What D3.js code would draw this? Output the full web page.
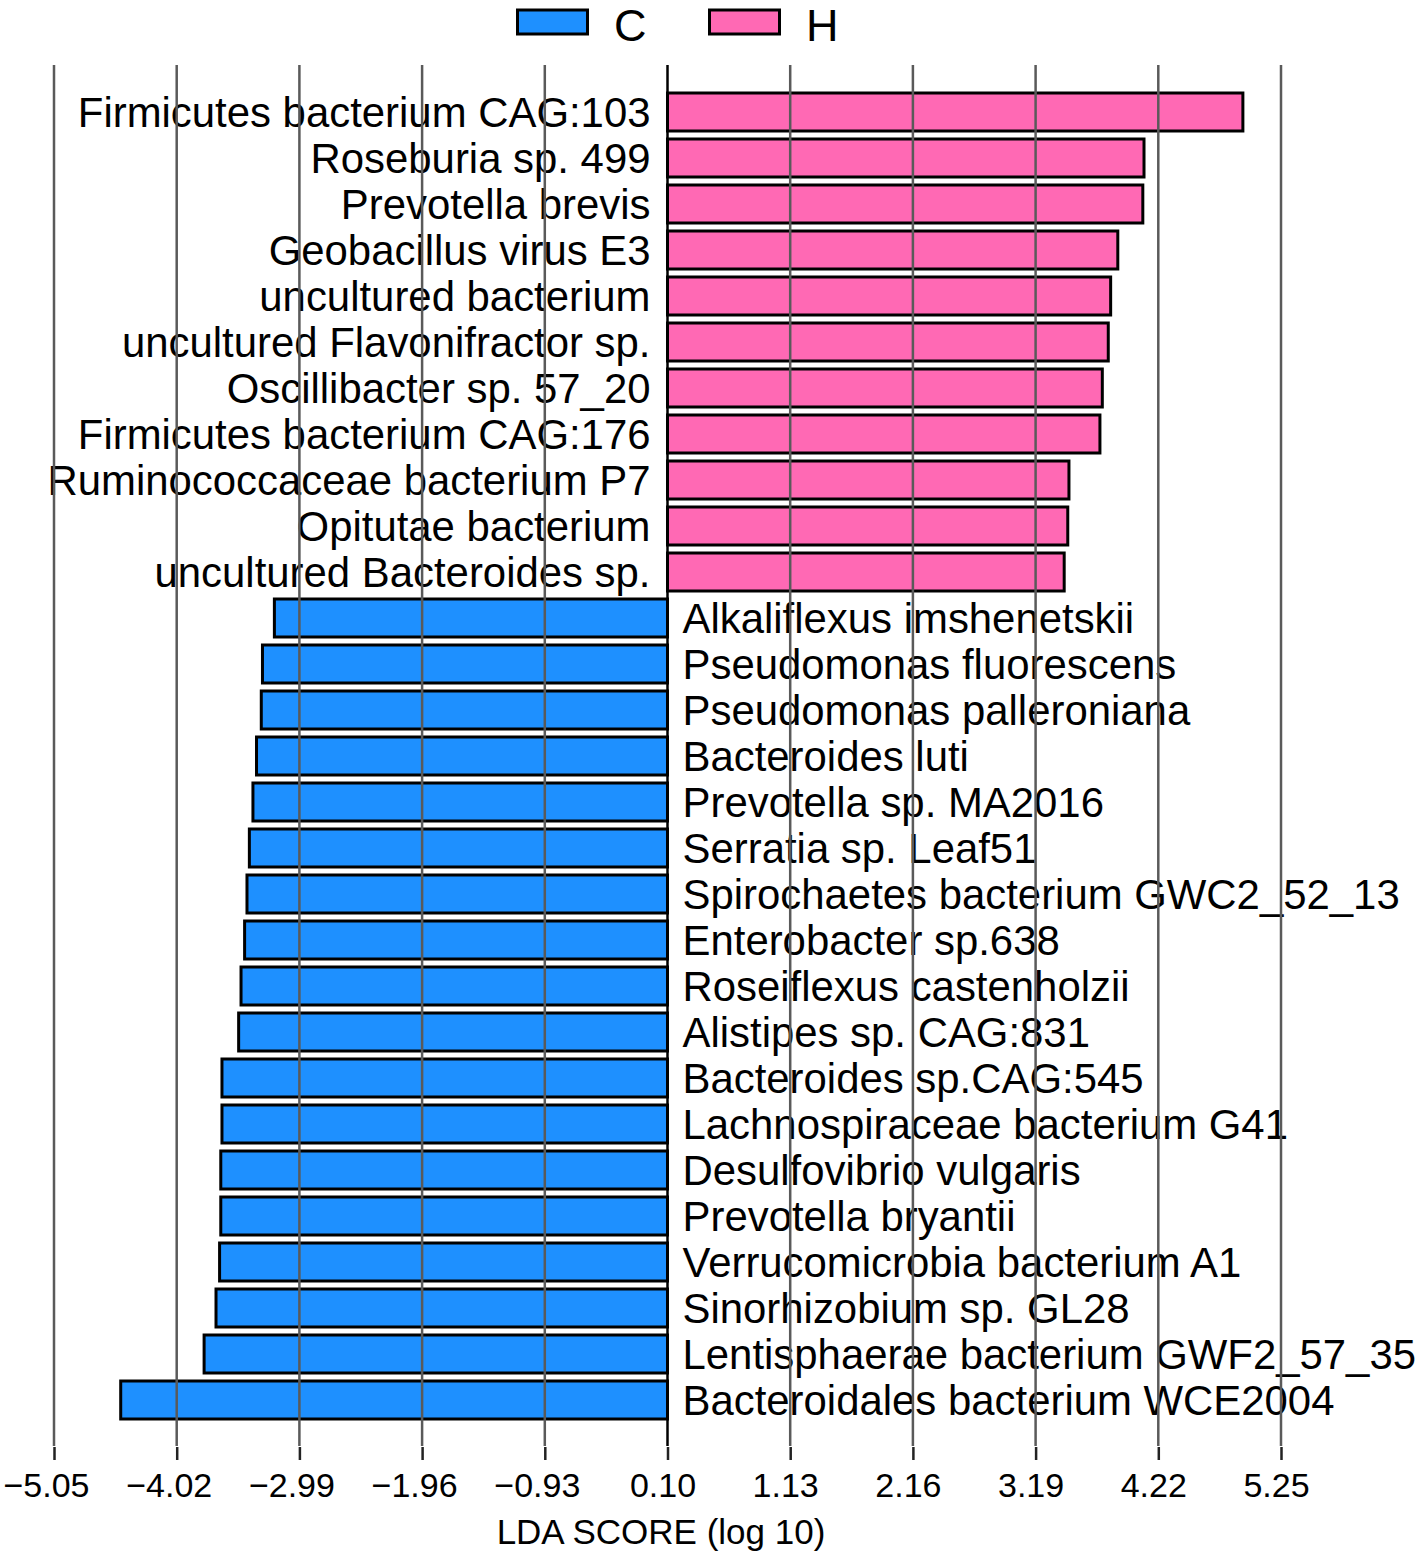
<!DOCTYPE html>
<html>
<head>
<meta charset="utf-8">
<script src="https://cdn.jsdelivr.net/npm/d3@7"></script>
<style>
  body { margin: 0; background: #fff; }
  text { font-family: "Liberation Sans", Arial, sans-serif; fill: #000; }
</style>
</head>
<body>
<div id="chart"></div>
<script>
var width_chart = 1417,
    height_chart = 1555;

var color_c = "#1e90ff";
var color_h = "#ff69b4";

// enriched in H (top block)
var h_names = ["Firmicutes bacterium CAG:103", "Roseburia sp. 499", "Prevotella brevis",
    "Geobacillus virus E3", "uncultured bacterium", "uncultured Flavonifractor sp.",
    "Oscillibacter sp. 57_20", "Firmicutes bacterium CAG:176", "Ruminococcaceae bacterium P7",
    "Opitutae bacterium", "uncultured Bacteroides sp."];
var h_scores = [4.83, 4.00, 3.99, 3.78, 3.72, 3.70, 3.65, 3.63, 3.37, 3.36, 3.33];

// enriched in C (bottom block)
var c_names = ["Alkaliflexus imshenetskii", "Pseudomonas fluorescens", "Pseudomonas palleroniana",
    "Bacteroides luti", "Prevotella sp. MA2016", "Serratia sp. Leaf51",
    "Spirochaetes bacterium GWC2_52_13", "Enterobacter sp.638", "Roseiflexus castenholzii",
    "Alistipes sp. CAG:831", "Bacteroides sp.CAG:545", "Lachnospiraceae bacterium G41",
    "Desulfovibrio vulgaris", "Prevotella bryantii", "Verrucomicrobia bacterium A1",
    "Sinorhizobium sp. GL28", "Lentisphaerae bacterium GWF2_57_35", "Bacteroidales bacterium WCE2004"];
var c_scores = [3.30, 3.40, 3.41, 3.45, 3.48, 3.51, 3.53, 3.55, 3.58, 3.60,
    3.74, 3.74, 3.75, 3.75, 3.76, 3.79, 3.89, 4.59];

var tick_values = [-5.05, -4.02, -2.99, -1.96, -0.93, 0.10, 1.13, 2.16, 3.19, 4.22, 5.25];
var base_value = 0.10;   // bars grow out from this tick

var rows = [];
h_names.forEach(function(n, i) { rows.push({ name: n, score: h_scores[i], cls: "H" }); });
c_names.forEach(function(n, i) { rows.push({ name: n, score: c_scores[i], cls: "C" }); });

var svg = d3.select("#chart").append("svg")
    .attr("width", width_chart)
    .attr("height", height_chart);

var x = d3.scaleLinear()
    .domain([-5.05, 5.25])
    .range([54, 1281]);

var y = d3.scaleBand()
    .domain(rows.map(function(d) { return d.name; }))
    .range([89, 1423])
    .paddingInner(0.174)
    .paddingOuter(0.087);

// bars
svg.selectAll("rect.bar")
    .data(rows)
    .enter().append("rect")
    .attr("class", "bar")
    .attr("x", function(d) {
        return d.cls == "H" ? x(base_value) : x(base_value - d.score);
    })
    .attr("y", function(d) { return y(d.name); })
    .attr("width", function(d) { return x(base_value + d.score) - x(base_value); })
    .attr("height", y.bandwidth())
    .style("fill", function(d) { return d.cls == "H" ? color_h : color_c; })
    .style("stroke", "#000")
    .style("stroke-width", 3);

// labels on the opposite side of the base line
svg.selectAll("text.lab")
    .data(rows)
    .enter().append("text")
    .attr("class", "lab")
    .attr("x", function(d) { return d.cls == "H" ? x(base_value) - 17 : x(base_value) + 15; })
    .attr("y", function(d) { return y(d.name) + y.bandwidth() / 2 + 15; })
    .attr("text-anchor", function(d) { return d.cls == "H" ? "end" : "start"; })
    .style("font-size", "41.9px")
    .text(function(d) { return d.name; });

// vertical grid lines, drawn over bars and labels
svg.selectAll("line.grid")
    .data(tick_values)
    .enter().append("line")
    .attr("class", "grid")
    .attr("x1", function(d) { return x(d); })
    .attr("x2", function(d) { return x(d); })
    .attr("y1", 65)
    .attr("y2", 1446)
    .style("stroke", function(d) { return d == base_value ? "#000" : "#5a5a5a"; })
    .style("stroke-width", 2.5);

// bottom axis: short ticks + labels
var axis = svg.append("g")
    .attr("transform", "translate(0,1447)")
    .call(d3.axisBottom(x)
        .tickValues(tick_values)
        .tickFormat(d3.format(".2f"))
        .tickSize(13)
        .tickPadding(13));

axis.select(".domain").remove();
axis.selectAll(".tick line")
    .style("stroke", "#222")
    .style("stroke-width", 2.5);
axis.selectAll(".tick text")
    .attr("dy", null)
    .attr("x", function(d) { return d < 0 ? -8 : -5; })
    .attr("y", 50)
    .style("font-family", "'Liberation Sans', Arial, sans-serif")
    .style("font-size", "34px")
    .style("fill", "#000");

svg.append("text")
    .attr("x", 661)
    .attr("y", 1544)
    .attr("text-anchor", "middle")
    .style("font-size", "35px")
    .text("LDA SCORE (log 10)");

// legend
var legend_items = [
    { label: "C", color: color_c, x: 516 },
    { label: "H", color: color_h, x: 708 }
];

var legend = svg.selectAll("g.legend")
    .data(legend_items)
    .enter().append("g")
    .attr("class", "legend")
    .attr("transform", function(d) { return "translate(" + d.x + ",0)"; });

legend.append("rect")
    .attr("x", 1.5)
    .attr("y", 10)
    .attr("width", 70)
    .attr("height", 24)
    .style("fill", function(d) { return d.color; })
    .style("stroke", "#000")
    .style("stroke-width", 3);

legend.append("text")
    .attr("x", 98)
    .attr("y", 41)
    .style("font-size", "45px")
    .text(function(d) { return d.label; });
</script>
</body>
</html>
